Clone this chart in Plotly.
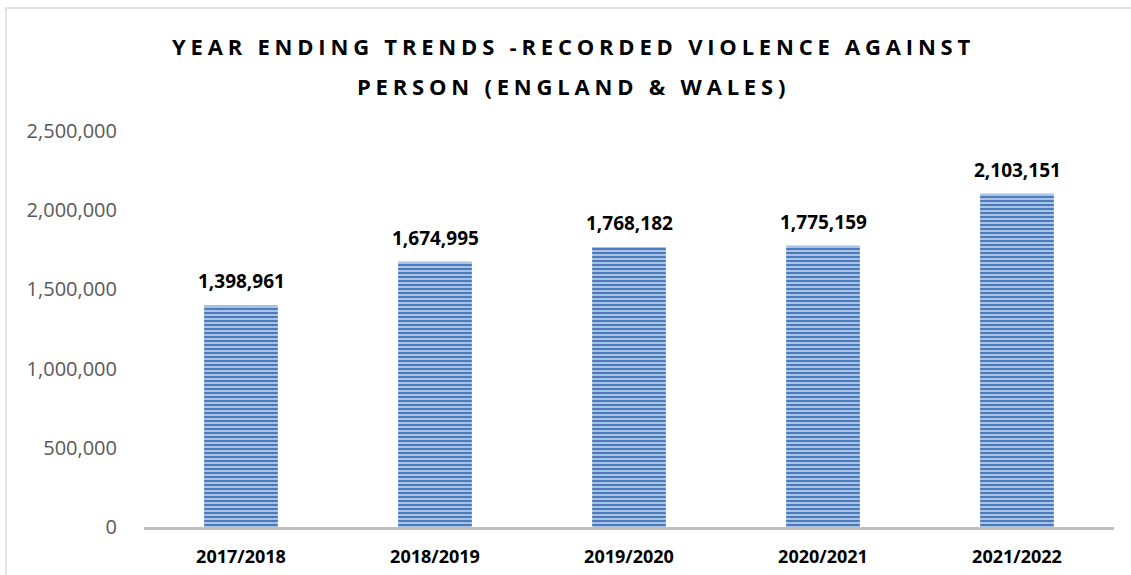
import plotly.graph_objects as go

categories = ["2017/2018", "2018/2019", "2019/2020", "2020/2021", "2021/2022"]
values = [1398961, 1674995, 1768182, 1775159, 2103151]
tick_vals = [0, 500000, 1000000, 1500000, 2000000, 2500000]
tick_text = ["0", "500,000", "1,000,000", "1,500,000", "2,000,000", "2,500,000"]
title_lines = ["YEAR ENDING TRENDS -RECORDED VIOLENCE AGAINST", "PERSON (ENGLAND & WALES)"]

fig = go.Figure()
fig.add_trace(go.Bar(
    x=categories, y=values, width=0.38,
    marker=dict(color="#4F81BD",
                line=dict(width=0),
                pattern=dict(shape="-", size=4, solidity=0.55, fgopacity=1,
                             fgcolor="#4A7CBC", bgcolor="#B3CAEA", fillmode="replace")),
    hoverinfo="skip",
))

for c, v in zip(categories, values):
    fig.add_annotation(x=c, y=v, text=f"<b>{v:,}</b>", showarrow=False,
                       yanchor="bottom", yshift=9,
                       font=dict(family="Open Sans", size=19, color="#000000"))

title_y = [46, 86]
for t, py in zip(title_lines, title_y):
    fig.add_annotation(xref="paper", yref="paper", x=(573 - 144) / 970,
                       y=(575 - 48 - py) / 396, xanchor="center", yanchor="middle",
                       text=f'<span style="letter-spacing:4.8px"><b>{t}</b></span>',
                       showarrow=False,
                       font=dict(family="Open Sans", size=22, color="#000000"))

fig.update_layout(
    width=1131, height=575,
    margin=dict(l=144, r=17, t=131, b=48),
    paper_bgcolor="white", plot_bgcolor="white",
    showlegend=False, bargap=0.62,
    xaxis=dict(showgrid=False, showline=True, linecolor="#BFBFBF", linewidth=2.5,
               automargin=False,
               tickfont=dict(family="Open Sans", size=18, color="#000000", weight="bold"),
               ticks="outside", ticklen=12, tickcolor="rgba(0,0,0,0)"),
    yaxis=dict(range=[0, 2500000], tickvals=tick_vals, ticktext=tick_text,
               showgrid=False, zeroline=False, showline=False, automargin=False,
               ticks="outside", ticklen=22, tickcolor="rgba(0,0,0,0)",
               tickfont=dict(family="Open Sans", size=20, color="#595959")),
)
fig.add_shape(type="rect", xref="paper", yref="paper",
              x0=(6 - 144) / 970, x1=1.1, y0=-0.3, y1=(575 - 48 - 8) / 396,
              line=dict(color="#D9D9D9", width=1.5), layer="below")

fig.write_html("out.html")
